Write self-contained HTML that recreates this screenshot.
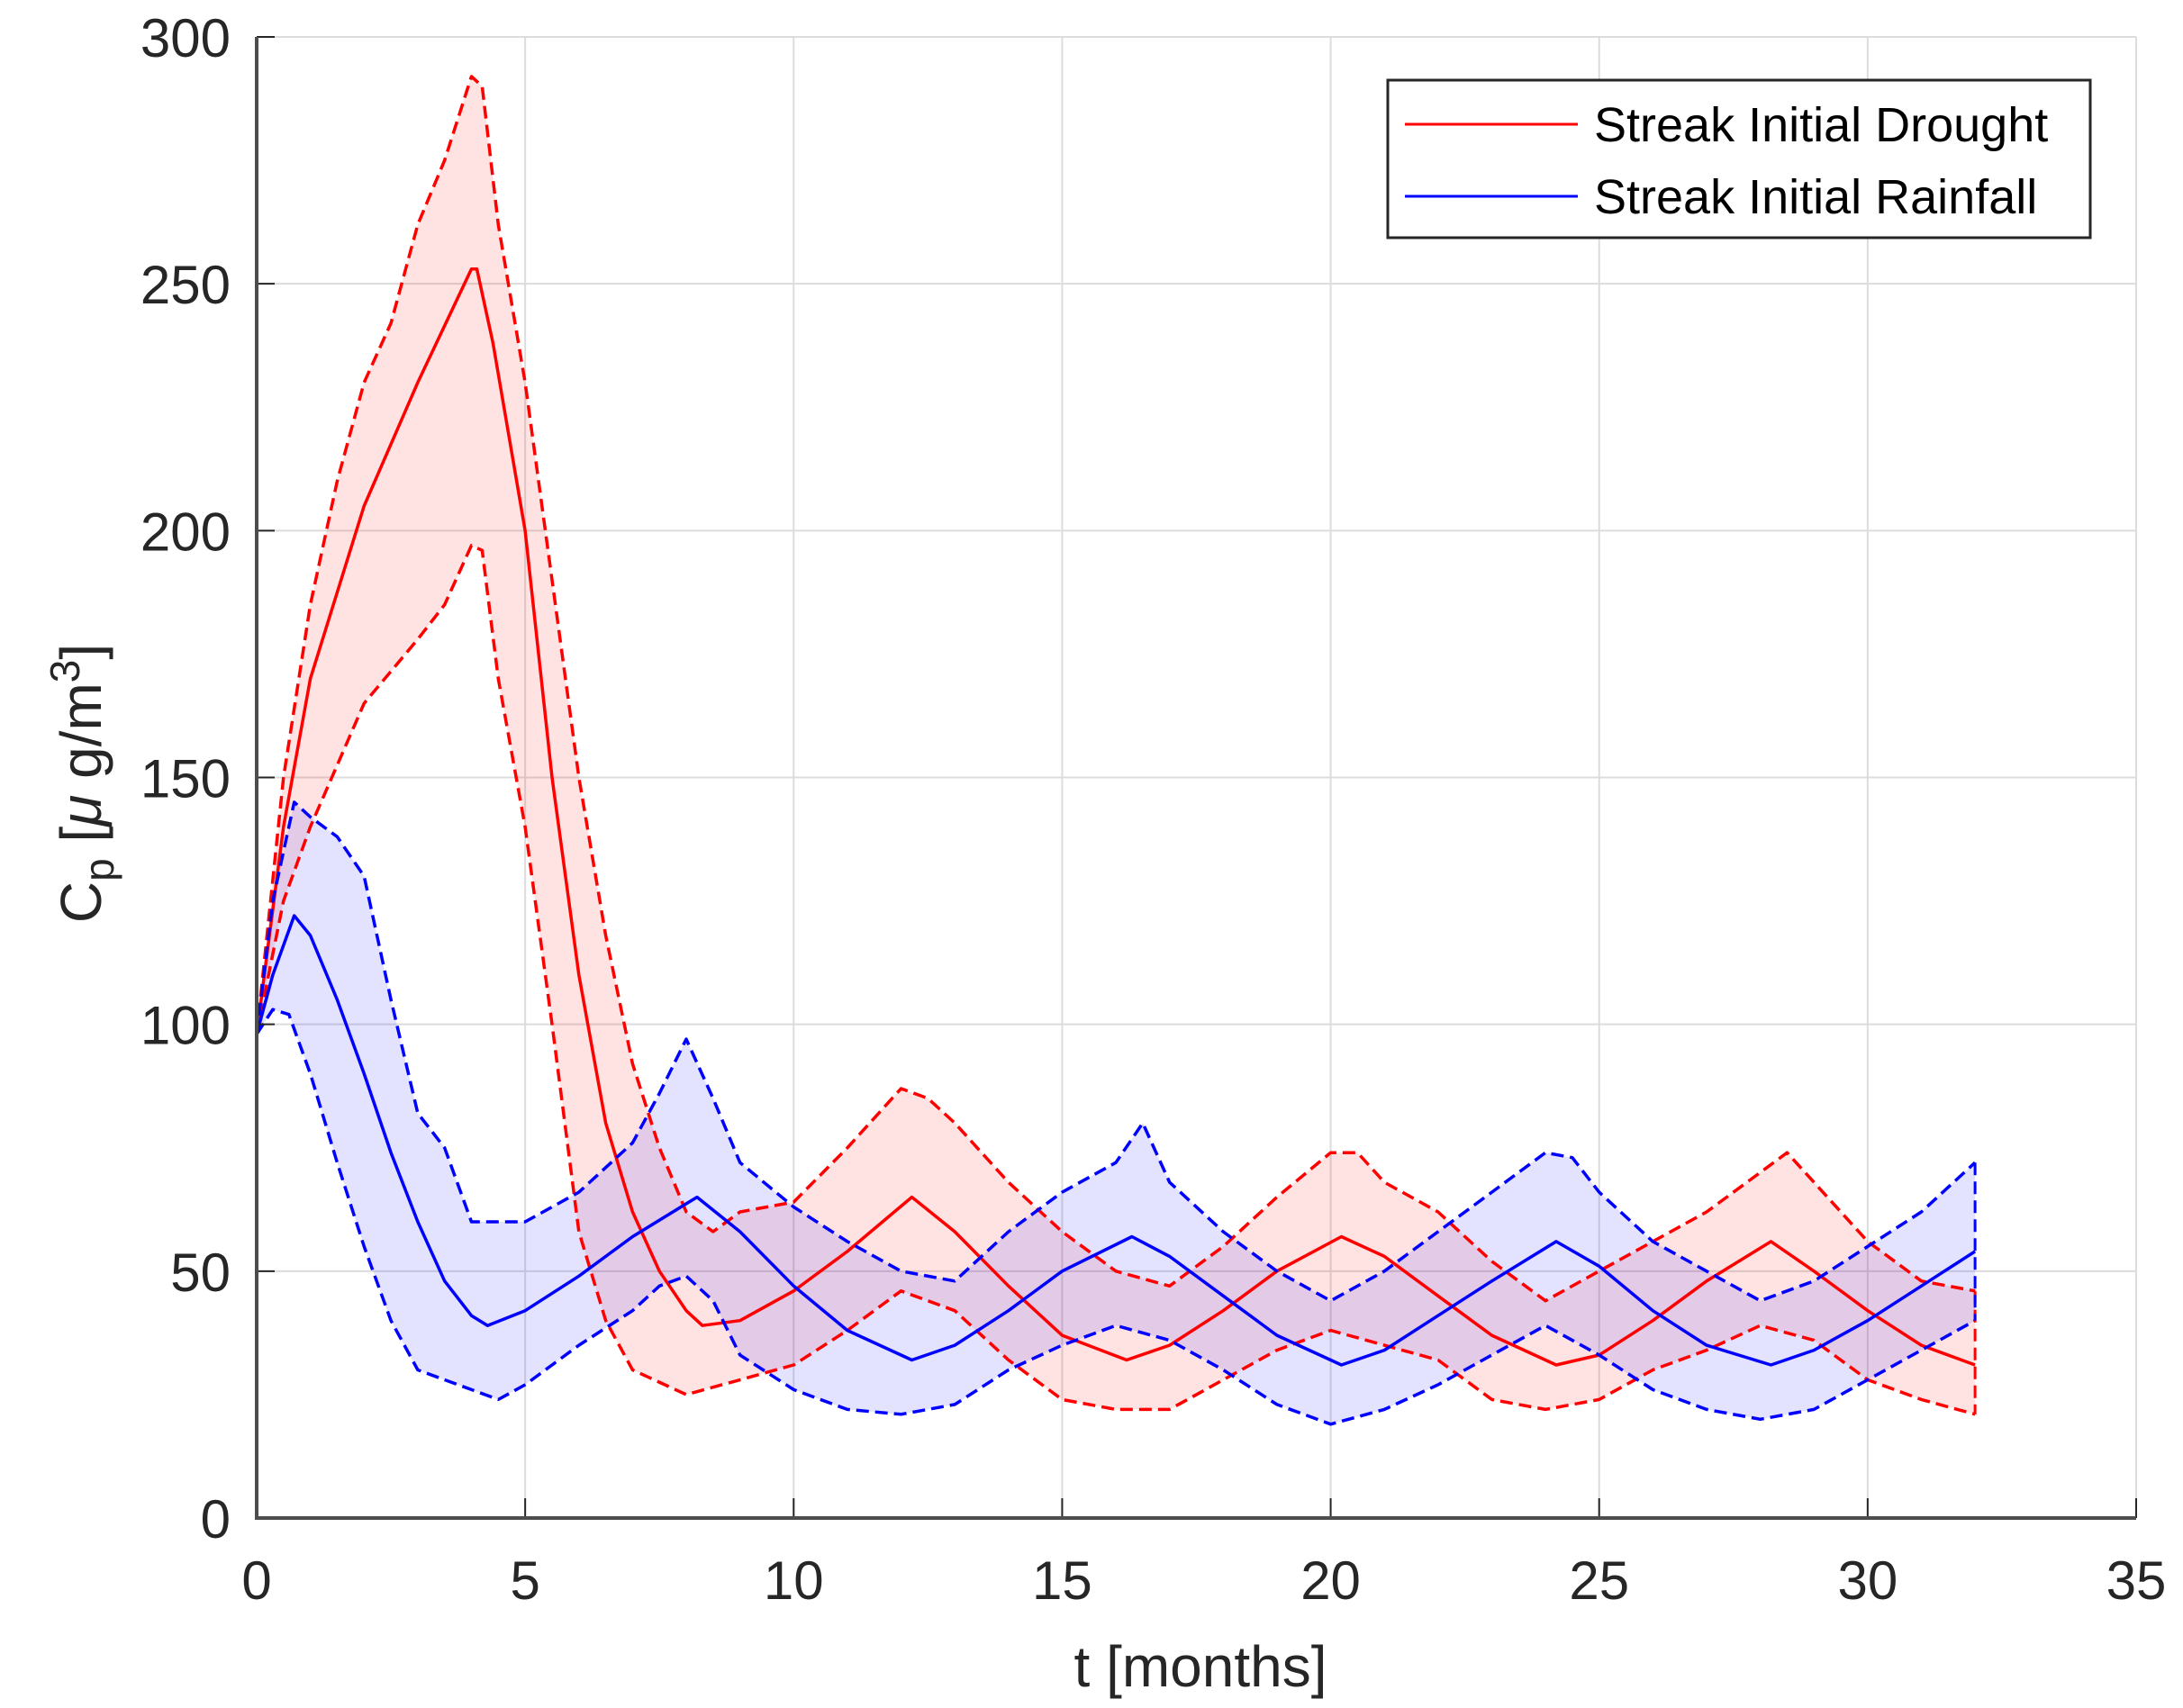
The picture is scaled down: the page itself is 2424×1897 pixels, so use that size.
<!DOCTYPE html>
<html><head><meta charset="utf-8"><style>
html,body{margin:0;padding:0;background:#fff;}
svg{display:block;font-family:"Liberation Sans",Arial,sans-serif;}
</style></head><body>
<svg id="chart" width="2424" height="1897" viewBox="0 0 2424 1897" xmlns="http://www.w3.org/2000/svg">
<g id="grid"></g>
<g id="fills"></g>
<g id="lines"></g>
<g id="axes"></g>
<text x="1333" y="1873" font-size="64" text-anchor="middle" fill="#262626">t [months]</text>
<text transform="translate(112,870) rotate(-90)" font-size="64" text-anchor="middle" fill="#262626">C<tspan font-size="46" dy="14">p</tspan><tspan dy="-14"> [</tspan><tspan font-style="italic">μ</tspan> g/m<tspan font-size="46" dy="-24">3</tspan><tspan dy="24">]</tspan></text>
<g>
<rect x="1541" y="89" width="780" height="175" fill="#fff" stroke="#262626" stroke-width="3"/>
<line x1="1560" y1="138" x2="1752" y2="138" stroke="#ff0000" stroke-width="3"/>
<text x="1770" y="157" font-size="54" fill="#000">Streak Initial Drought</text>
<line x1="1560" y1="218" x2="1752" y2="218" stroke="#0000ff" stroke-width="3"/>
<text x="1770" y="237" font-size="54" fill="#000">Streak Initial Rainfall</text>
</g>
</svg>
<script>
const xTicks=[0,5,10,15,20,25,30,35];
const yTicks=[0,50,100,150,200,250,300];
const redMeanT=[0,0.5,1,2,3,4,4.1,4.4,5,5.5,6,6.5,7,7.5,8,8.3,9,10,11,12.2,13,14,15,16.2,17,18,19,20.2,21,22,23,24.2,25,26,27,28.2,29,30,31,32];
const redMean=[98,140,170,205,230,253,253,238,200,150,110,80,62,50,42,39,40,46,54,65,58,47,37,32,35,42,50,57,53,45,37,31,33,40,48,56,50,42,35,31];
const redUpT=[0,0.5,1,1.5,2,2.5,3,3.5,4,4.2,4.5,5,5.5,6,6.5,7,7.5,8,8.5,9,10,11,12,12.5,13,14,15,16,17,18,19,20,20.5,21,22,23,24,25,26,27,28,28.5,29,30,31,32];
const redUp=[98,150,185,210,230,242,262,275,292,290,262,230,190,150,118,92,75,62,58,62,64,75,87,85,80,68,58,50,47,55,65,74,74,68,62,52,44,50,56,62,70,74,68,56,48,46];
const redLoT=[0,0.5,1,2,3,3.5,4,4.2,4.5,5,5.5,6,6.5,7,8,9,10,11,12,13,14,15,16,17,18,19,20,21,22,23,24,25,26,27,28,29,30,31,32];
const redLo=[98,125,140,165,178,185,197,196,170,140,100,58,40,30,25,28,31,38,46,42,32,24,22,22,28,34,38,35,32,24,22,24,30,34,39,36,28,24,21];
const blueMeanT=[0,0.3,0.7,1,1.5,2,2.5,3,3.5,4,4.3,5,6,7,8.2,9,10,11,12.2,13,14,15,16.3,17,18,19,20.2,21,22,23,24.2,25,26,27,28.2,29,30,31,32];
const blueMean=[98,110,122,118,105,90,74,60,48,41,39,42,49,57,65,58,47,38,32,35,42,50,57,53,45,37,31,34,41,48,56,51,42,35,31,34,40,47,54];
const blueUpT=[0,0.3,0.7,1,1.5,2,2.5,3,3.5,4,4.5,5,6,7,7.5,8,8.5,9,10,11,12,13,14,15,16,16.5,17,18,19,20,21,22,23,24,24.5,25,26,27,28,29,30,31,32];
const blueUp=[98,125,145,142,138,130,105,82,75,60,60,60,66,76,86,97,85,72,63,56,50,48,58,66,72,80,68,58,50,44,50,58,66,74,73,66,56,50,44,48,55,62,72];
const blueLoT=[0,0.3,0.6,1,1.5,2,2.5,3,3.5,4,4.5,5,6,7,7.5,8,8.5,9,10,11,12,13,14,15,16,17,18,19,20,21,22,23,24,25,26,27,28,29,30,31,32];
const blueLo=[98,103,102,90,72,55,40,30,28,26,24,27,35,42,47,49,44,33,26,22,21,23,30,35,39,36,30,23,19,22,27,33,39,33,26,22,20,22,28,34,40];

const X0=285,X1=2372,Y0=1686,Y1=41;
const xs=t=>X0+(t/35)*(X1-X0);
const ys=v=>Y0-(v/300)*(Y0-Y1);
const NS='http://www.w3.org/2000/svg';
function mk(tag,attrs,parent){const e=document.createElementNS(NS,tag);for(const k in attrs)e.setAttribute(k,attrs[k]);parent.appendChild(e);return e;}
const grid=document.getElementById('grid'),axes=document.getElementById('axes'),fills=document.getElementById('fills'),lines=document.getElementById('lines');
xTicks.forEach(t=>{
  const g=mk('line',{x1:xs(t),x2:xs(t),y1:Y1,y2:Y0,stroke:'#dcdcdc','stroke-width':2},grid);
  
  
  const tk=mk('line',{x1:xs(t),x2:xs(t),y1:Y0,y2:Y0-22,stroke:'#262626','stroke-width':2},axes);
  
  
  const tx=mk('text',{x:xs(t),y:1776,'font-size':60,'text-anchor':'middle',fill:'#262626'},axes);
  tx.textContent=t;
  
  
});
yTicks.forEach(v=>{
  const g=mk('line',{x1:X0,x2:X1,y1:ys(v),y2:ys(v),stroke:'#dcdcdc','stroke-width':2},grid);
  
  
  const tk=mk('line',{x1:X0,x2:X0+20,y1:ys(v),y2:ys(v),stroke:'#262626','stroke-width':2},axes);
  
  
  const tx=mk('text',{x:256,y:ys(v)+22,'font-size':60,'text-anchor':'end',fill:'#262626'},axes);
  tx.textContent=v;
  
  
});
const frame=mk('path',{d:`M${X0},${Y1}V${Y0}H${X1}`,fill:'none',stroke:'#4d4d4d','stroke-width':4},axes);


mk('line',{x1:X1,x2:X1,y1:Y1,y2:Y0,stroke:'#dcdcdc','stroke-width':2},grid);
mk('line',{x1:X0,x2:X1,y1:Y1,y2:Y1,stroke:'#dcdcdc','stroke-width':2},grid);
const pts=(T,V)=>T.map((t,i)=>xs(t).toFixed(1)+','+ys(V[i]).toFixed(1));
function band(TU,VU,TL,VL,color,name){
  const p=pts(TU,VU).concat(pts(TL,VL).reverse());
  const e=mk('polygon',{points:p.join(' '),fill:color,stroke:'none'},fills);
  
  
}
band(redUpT,redUp,redLoT,redLo,'rgba(255,0,0,0.11)','drought-band');
band(blueUpT,blueUp,blueLoT,blueLo,'rgba(0,0,255,0.11)','rainfall-band');
function line(T,V,color,dash,name){
  const e=mk('polyline',{points:pts(T,V).join(' '),fill:'none',stroke:color,'stroke-width':3.5,'stroke-linejoin':'round'},lines);
  if(dash)e.setAttribute('stroke-dasharray','14 7');
  
  
}
line(redUpT,redUp,'#ff0000',true,'drought-upper');
line(redLoT,redLo,'#ff0000',true,'drought-lower');
line(redMeanT,redMean,'#ff0000',false,'drought-mean');
line(blueUpT,blueUp,'#0000ff',true,'rainfall-upper');
line(blueLoT,blueLo,'#0000ff',true,'rainfall-lower');
line(blueMeanT,blueMean,'#0000ff',false,'rainfall-mean');
const e1=mk('line',{x1:xs(32),x2:xs(32),y1:ys(redUp[redUp.length-1]),y2:ys(redLo[redLo.length-1]),stroke:'#ff0000','stroke-width':3,'stroke-dasharray':'14 7'},lines);


const e2=mk('line',{x1:xs(32),x2:xs(32),y1:ys(blueUp[blueUp.length-1]),y2:ys(blueLo[blueLo.length-1]),stroke:'#0000ff','stroke-width':3,'stroke-dasharray':'14 7'},lines);


</script>
</body></html>
